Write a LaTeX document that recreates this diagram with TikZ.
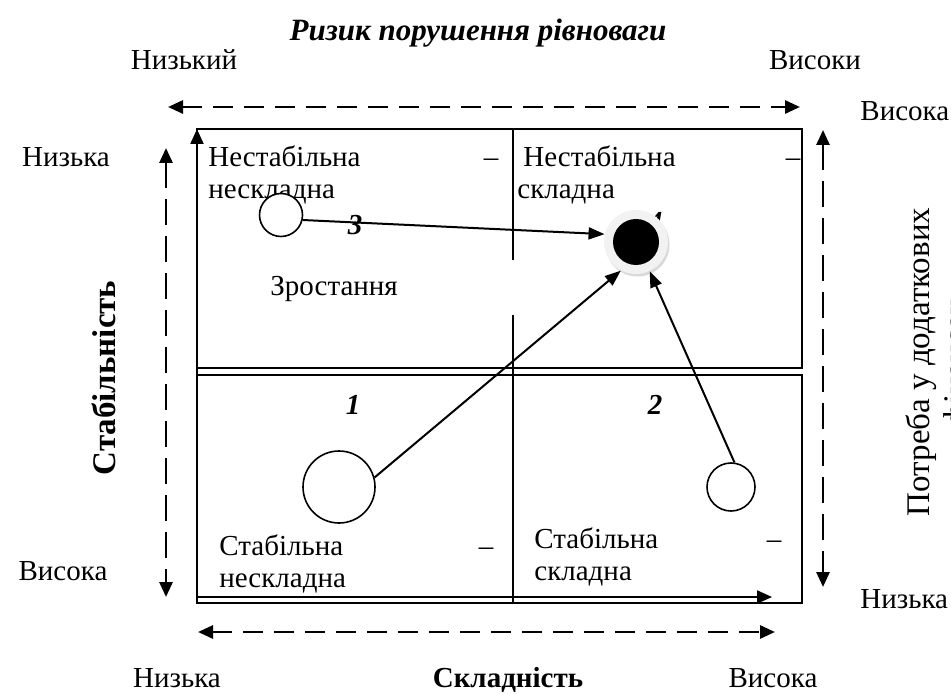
\documentclass[tikz,border=0pt]{standalone}
\usepackage{fontspec}
\setmainfont{Liberation Serif}
\usetikzlibrary{arrows.meta,positioning,calc}

\begin{document}
\begin{tikzpicture}[x=0.5pt,y=-0.5pt,
  lbl/.style={font=\fontsize{14.5}{16}\selectfont,inner sep=0pt},
  num/.style={font=\fontsize{14.5}{16}\selectfont\bfseries\itshape,inner sep=0pt},
  axisname/.style={font=\fontsize{14.5}{16}\selectfont\bfseries,inner sep=0pt},
  vlbl/.style={font=\fontsize{16.5}{18}\selectfont,inner sep=0pt,rotate=90,anchor=base},
  dot/.style={circle,draw=black,line width=0.8pt,fill=white,inner sep=0pt},
  quad/.style={line width=1pt},
  hdash/.style={{Triangle[length=7.5pt,width=6.5pt]}-{Triangle[length=7.5pt,width=6.5pt]},line width=1.4pt,dash pattern=on 10pt off 5.5pt},
  vdash/.style={{Triangle[length=7.5pt,width=6.5pt]}-{Triangle[length=7.5pt,width=6.5pt]},line width=1.4pt,dash pattern=on 13pt off 5.5pt},
  axis/.style={-{Triangle[length=7.5pt,width=6.5pt]},line width=1pt},
  link/.style={-{Triangle[length=8pt,width=6pt]},line width=1pt}
]
  \useasboundingbox (0,0) rectangle (951,694);

  \draw[quad] (197,129) rectangle (802,368);
  \draw[quad] (197,375) rectangle (802,603);
  \draw[line width=0.8pt] (513,129) -- (513,260);
  \draw[line width=0.8pt] (513,315) -- (513,603);

  \coordinate (o) at (197,603);
  \coordinate (oy) at (197,129);
  \coordinate (ox0) at (197,597);
  \coordinate (ox) at (772,597);
  \draw[axis] (o) -- (oy);
  \draw[axis] (ox0) -- (ox);

  \coordinate (risklo) at (168,107);
  \coordinate (riskhi) at (800,107);
  \coordinate (cplxlo) at (198,632);
  \coordinate (cplxhi) at (775,632);
  \coordinate (stabtop) at (166,148);
  \coordinate (stabbot) at (166,597);
  \coordinate (needtop) at (823,130);
  \coordinate (needbot) at (823,587);
  \draw[hdash] (risklo) -- (riskhi);
  \draw[hdash] (cplxlo) -- (cplxhi);
  \draw[vdash] (stabtop) -- (stabbot);
  \draw[vdash] (needtop) -- (needbot);

  \node[num,font=\fontsize{15.5}{17}\selectfont\bfseries\itshape] (title) at (478,33) {Ризик порушення рівноваги};
  \node[lbl,anchor=base] (riskl) at (184,70) {Низький};
  \node[lbl,anchor=base] (riskh) at (815,70) {Високи};
  \node[lbl,anchor=base west] (needh) at (860,121) {Висока};
  \node[lbl,anchor=base west] (needl) at (860,608) {Низька};
  \node[lbl,anchor=base] (stabl) at (66,167) {Низька};
  \node[lbl,anchor=base] (stabh) at (63,580) {Висока};
  \node[vlbl,font=\fontsize{16.5}{18}\selectfont\bfseries] (stab) at (115,378) {Стабільність};
  \node[vlbl] (need1) at (929,362) {Потреба у додаткових};
  \node[vlbl] (need2) at (966,362) {фінансах};
  \node[lbl,anchor=base] (cplxl) at (177,687) {Низька};
  \node[axisname,anchor=base] (cplx) at (508,687) {Складність};
  \node[lbl,anchor=base] (cplxh) at (773,687) {Висока};

  \node[lbl,anchor=base west] (ul1) at (208,167) {Нестабільна};
  \node[lbl,anchor=base west] (ul2) at (208,199) {нескладна};
  \node[lbl,anchor=base] (uld) at (491,167) {–};
  \node[lbl,anchor=base west] (ur1) at (523,167) {Нестабільна};
  \node[lbl,anchor=base west] (ur2) at (517,199) {складна};
  \node[lbl,anchor=base] (urd) at (793,167) {–};
  \node[lbl,anchor=base west] (ll1) at (219,555) {Стабільна};
  \node[lbl,anchor=base west] (ll2) at (219,587) {нескладна};
  \node[lbl,anchor=base] (lld) at (486,555) {–};
  \node[lbl,anchor=base west] (lr1) at (534,548) {Стабільна};
  \node[lbl,anchor=base west] (lr2) at (534,580) {складна};
  \node[lbl,anchor=base] (lrd) at (774,548) {–};
  \node[lbl,anchor=base west] (grow) at (270,296) {Зростання};

  \node[num] (n4) at (655,222) {4};
  \node[circle,fill=gray!30,minimum size=32pt,inner sep=0pt] (c4s) at (637.5,244.5) {};
  \node[circle,fill=gray!10,minimum size=32pt,inner sep=0pt] (c4) at (636,242) {};
  \node[circle,fill=black,minimum size=23pt,inner sep=0pt] (c4k) at (c4) {};

  \node[dot,minimum size=21.5pt] (c3) at (281,215) {};
  \node[dot,minimum size=36pt] (c1) at (339,487) {};
  \node[dot,minimum size=24pt] (c2) at (731,487) {};

  \draw[link] (c3.-13) -- (c4.166);
  \draw[link] (c1.15) -- (c4.242);
  \draw[link] (c2.82) -- (c4.-65);

  \node[num] (n3) at (355,225) {3};
  \node[num] (n1) at (353,405) {1};
  \node[num] (n2) at (655,405) {2};
\end{tikzpicture}
\end{document}
